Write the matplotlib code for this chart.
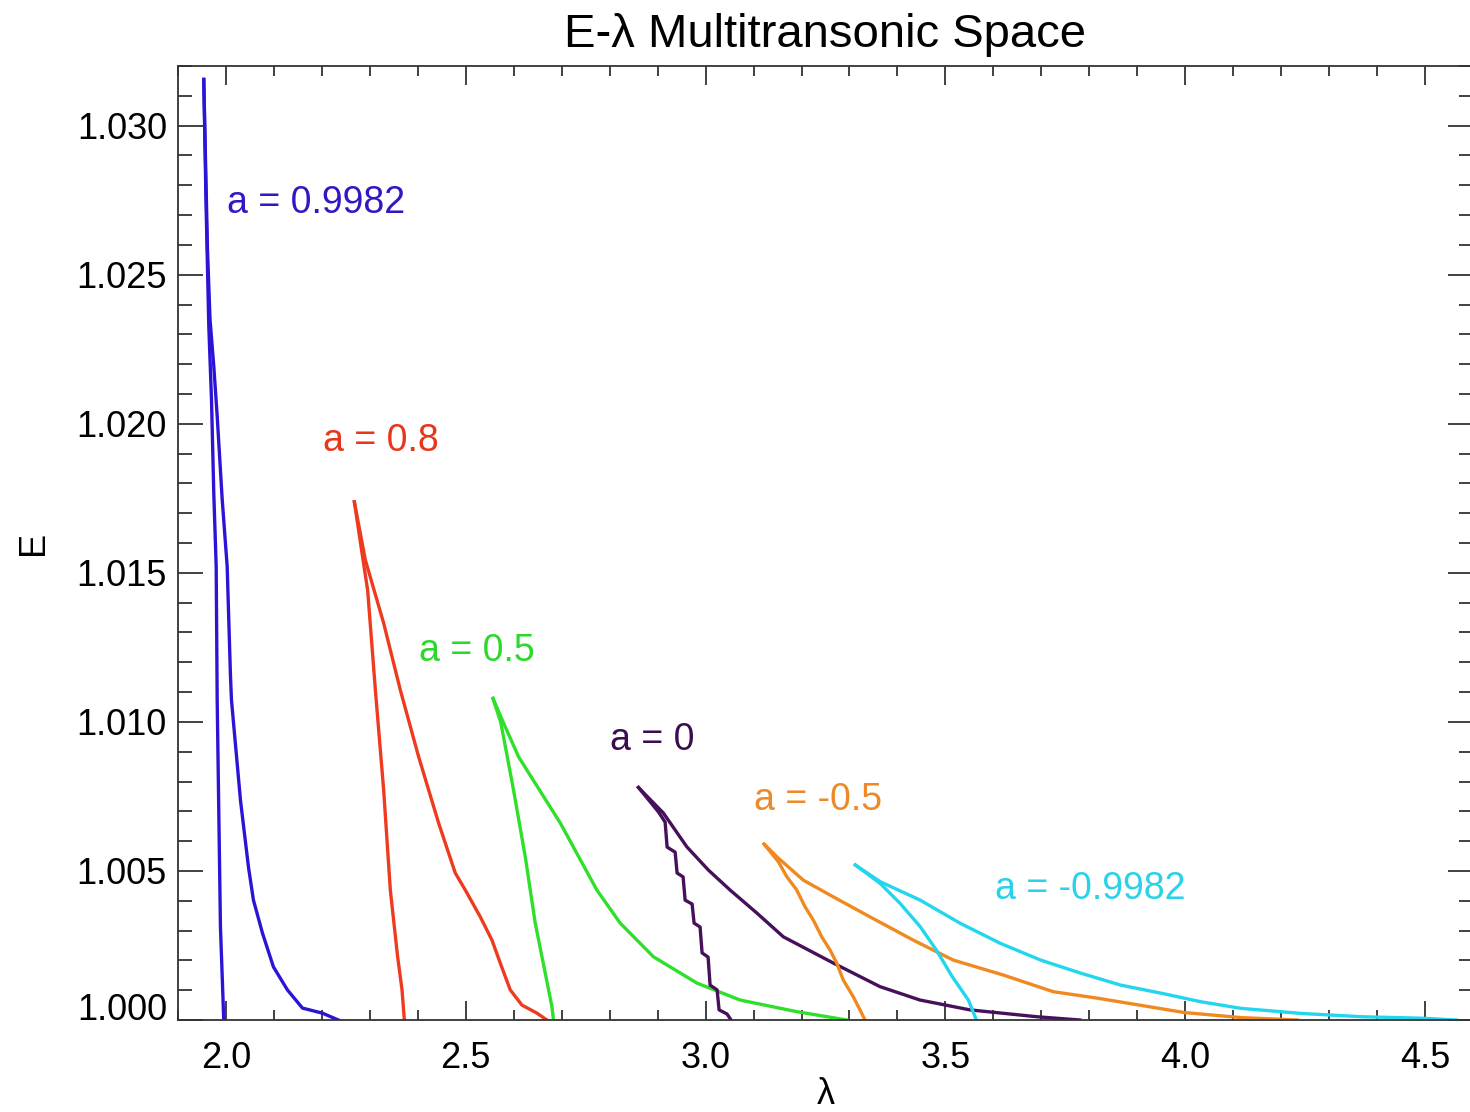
import matplotlib
matplotlib.use("Agg")
import matplotlib.pyplot as plt
from matplotlib.ticker import MultipleLocator, FormatStrFormatter

plt.rcParams['font.family'] = ['Liberation Sans', 'DejaVu Sans']

# ---- data (lambda, E) : each curve = steep branch + shallow branch from apex ----
# a = 0.9982
blue_steep_x = [1.9537, 1.9583, 1.9642, 1.9698, 1.9746, 1.9796, 1.9817, 1.9885, 1.9954]
blue_steep_E = [1.03155, 1.02750, 1.02327, 1.02083, 1.01767, 1.01522, 1.01073, 1.00312, 1.00000]
blue_shal_x = [1.9537, 1.9615, 1.9667, 1.9746, 1.9817, 1.9921, 2.0025, 2.0094, 2.0115, 2.0302,
               2.0469, 2.0573, 2.0760, 2.0990, 2.1281, 2.1594, 2.2010, 2.2344]
blue_shal_E = [1.03155, 1.02582, 1.02351, 1.02193, 1.02026, 1.01747, 1.01522, 1.01154, 1.01073, 1.00738,
               1.00513, 1.00402, 1.00292, 1.00178, 1.00101, 1.00040, 1.00023, 1.00000]

# a = 0.8
red_steep_x = [2.2677, 2.2858, 2.2954, 2.3115, 2.3288, 2.3427, 2.3579, 2.3671, 2.3719]
red_steep_E = [1.01738, 1.01543, 1.01442, 1.01107, 1.00771, 1.00436, 1.00212, 1.00101, 1.00000]
red_shal_x = [2.2677, 2.2906, 2.3288, 2.3635, 2.4017, 2.4433, 2.4781, 2.4990, 2.5302, 2.5546,
              2.5719, 2.5927, 2.6171, 2.6483, 2.6692]
red_shal_E = [1.01738, 1.01543, 1.01331, 1.01107, 1.00883, 1.00661, 1.00493, 1.00436, 1.00346, 1.00268,
              1.00191, 1.00101, 1.00050, 1.00023, 1.00000]

# a = 0.5
green_steep_x = [2.5567, 2.5733, 2.5996, 2.6240, 2.6448, 2.6656, 2.6796, 2.6829]
green_steep_E = [1.01079, 1.00996, 1.00771, 1.00548, 1.00325, 1.00158, 1.00045, 1.00000]
green_shal_x = [2.5567, 2.5788, 2.6100, 2.6969, 2.7733, 2.8219, 2.8913, 2.9817, 3.0719, 3.1900, 3.2942]
green_shal_E = [1.01079, 1.00996, 1.00883, 1.00661, 1.00436, 1.00325, 1.00212, 1.00124, 1.00067, 1.00028, 1.00000]

# a = 0 (steep branch is stair-stepped)
purple_steep_x = [2.8600, 2.9017, 2.9156, 2.9198, 2.9365, 2.9406, 2.9531, 2.9573, 2.9719, 2.9760,
                  2.9885, 2.9927, 3.0052, 3.0094, 3.0240, 3.0281, 3.0448, 3.0531]
purple_steep_E = [1.00780, 1.00698, 1.00664, 1.00580, 1.00563, 1.00493, 1.00480, 1.00402, 1.00389, 1.00325,
                  1.00312, 1.00225, 1.00211, 1.00117, 1.00101, 1.00034, 1.00020, 1.00000]
purple_shal_x = [2.8600, 2.9121, 2.9608, 3.0058, 3.0510, 3.1067, 3.1621, 3.2663, 3.3635, 3.4469,
                 3.5510, 3.6900, 3.7802]
purple_shal_E = [1.00780, 1.00694, 1.00581, 1.00503, 1.00436, 1.00359, 1.00279, 1.00191, 1.00112, 1.00067,
                 1.00034, 1.00011, 1.00000]

# a = -0.5
orange_steep_x = [3.1219, 3.1517, 3.1692, 3.1900, 3.2073, 3.2246, 3.2421, 3.2594, 3.2733, 3.2871,
                  3.3079, 3.3219, 3.3323]
orange_steep_E = [1.00590, 1.00531, 1.00481, 1.00436, 1.00380, 1.00335, 1.00279, 1.00235, 1.00191, 1.00134,
                  1.00078, 1.00034, 1.00000]
orange_shal_x = [3.1219, 3.1517, 3.2038, 3.2663, 3.3427, 3.4329, 3.5163, 3.6204, 3.7246, 3.8219,
                 3.9981, 4.1169, 4.2340]
orange_shal_E = [1.00590, 1.00543, 1.00469, 1.00413, 1.00346, 1.00268, 1.00201, 1.00151, 1.00095, 1.00072,
                 1.00025, 1.00008, 1.00000]

# a = -0.9982
cyan_steep_x = [3.3121, 3.3640, 3.4056, 3.4475, 3.4810, 3.5144, 3.5479, 3.5646]
cyan_steep_E = [1.00520, 1.00458, 1.00391, 1.00313, 1.00235, 1.00145, 1.00067, 1.00000]
cyan_shal_x = [3.3121, 3.3640, 3.4475, 3.5313, 3.6148, 3.6985, 3.7823, 3.8656, 3.9496, 4.0331,
               4.1169, 4.2423, 4.3677, 4.4933, 4.5650]
cyan_shal_E = [1.00520, 1.00464, 1.00402, 1.00324, 1.00257, 1.00201, 1.00157, 1.00117, 1.00090, 1.00061,
               1.00039, 1.00022, 1.00011, 1.00006, 1.00000]

labels = ["a = 0.9982", "a = 0.8", "a = 0.5", "a = 0", "a = -0.5", "a = -0.9982"]
label_x = [2.003, 2.2016, 2.4031, 2.8010, 3.1010, 3.6031]
label_E = [1.02740, 1.01942, 1.01237, 1.00939, 1.00738, 1.00439]

colors = ["#2c14d4", "#ee3a1e", "#2ee02a", "#46105a", "#f08a20", "#22d6ee"]
text_colors = ["#3218c4", "#e8361c", "#2cd82a", "#3c0c50", "#ec8a2a", "#2ad2e8"]

fig = plt.figure(figsize=(14.7, 11.12), dpi=100)
ax = fig.add_axes([178/1470, 92/1112, 1295/1470, 954/1112])

curves = [
    (blue_steep_x, blue_steep_E, blue_shal_x, blue_shal_E),
    (red_steep_x, red_steep_E, red_shal_x, red_shal_E),
    (green_steep_x, green_steep_E, green_shal_x, green_shal_E),
    (purple_steep_x, purple_steep_E, purple_shal_x, purple_shal_E),
    (orange_steep_x, orange_steep_E, orange_shal_x, orange_shal_E),
    (cyan_steep_x, cyan_steep_E, cyan_shal_x, cyan_shal_E),
]
for (sx, sE, hx, hE), c in zip(curves, colors):
    ax.plot(sx, sE, color=c, lw=2.4)
    ax.plot(hx, hE, color=c, lw=2.4)

for t, x, y, c in zip(labels, label_x, label_E, text_colors):
    ax.text(x, y, t, color=c, fontsize=27, ha='left', va='center')

ax.set_xlim(1.9, 4.6)
ax.set_ylim(1.0, 1.032)
ax.xaxis.set_major_locator(MultipleLocator(0.5))
ax.xaxis.set_minor_locator(MultipleLocator(0.1))
ax.yaxis.set_major_locator(MultipleLocator(0.005))
ax.yaxis.set_minor_locator(MultipleLocator(0.001))
ax.xaxis.set_major_formatter(FormatStrFormatter('%.1f'))
ax.yaxis.set_major_formatter(FormatStrFormatter('%.3f'))

ax.tick_params(axis='x', which='major', direction='in', length=14, width=1.3, top=True, bottom=True,
               labelsize=26, pad=15, color='#333333')
ax.tick_params(axis='x', which='minor', direction='in', length=7, width=1.3, top=True, bottom=True,
               color='#333333')
ax.tick_params(axis='y', which='major', direction='in', length=18, width=1.3, left=True, right=True,
               labelsize=26, pad=8, color='#333333')
ax.tick_params(axis='y', which='minor', direction='in', length=10, width=1.3, left=True, right=True,
               color='#333333')
for s in ax.spines.values():
    s.set_linewidth(1.3)
    s.set_color('#333333')

ax.set_xlabel('λ', fontsize=26, labelpad=1)
ax.set_ylabel('E', fontsize=26, labelpad=18)
ax.set_title('E-λ Multitransonic Space', fontsize=34, pad=14)

fig.canvas.draw()
for tk in ax.yaxis.get_major_ticks():
    if tk.label1.get_text() == '1.000':
        tk.label1.set_verticalalignment('baseline')

fig.savefig('out.png', dpi=100)
